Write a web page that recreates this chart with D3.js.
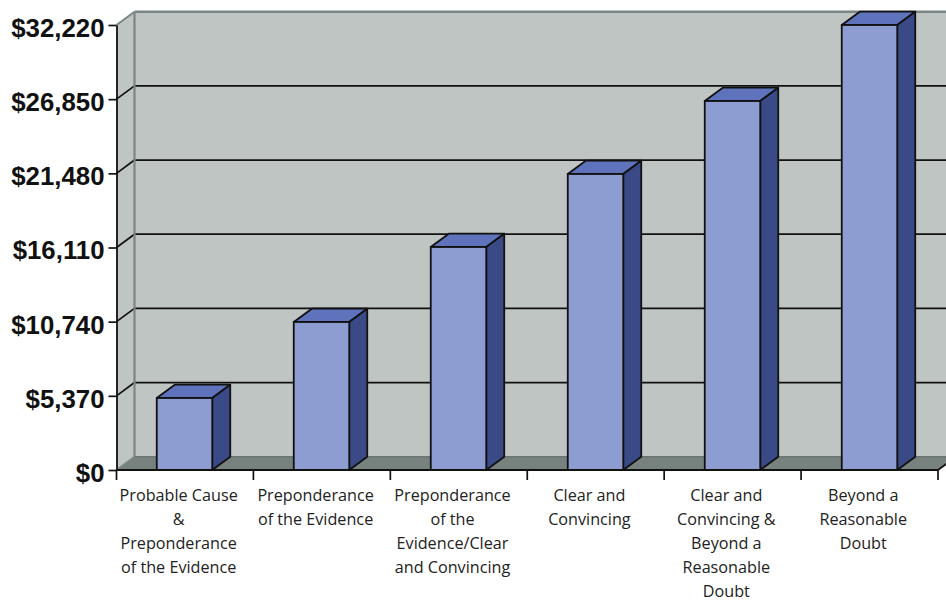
<!DOCTYPE html>
<html><head><meta charset="utf-8">
<style>html,body{margin:0;padding:0;background:#fff}svg{display:block}</style>
<script src="https://cdn.jsdelivr.net/npm/d3@7/dist/d3.min.js"></script></head>
<body><svg id="c" width="946" height="602"></svg>
<script>
const categories=["Probable Cause & Preponderance of the Evidence","Preponderance of the Evidence","Preponderance of the Evidence/Clear and Convincing","Clear and Convincing","Clear and Convincing & Beyond a Reasonable Doubt","Beyond a Reasonable Doubt"];
const labelLines=[["Probable Cause","&","Preponderance","of the Evidence"],["Preponderance","of the Evidence"],["Preponderance","of the","Evidence/Clear","and Convincing"],["Clear and","Convincing"],["Clear and","Convincing &","Beyond a","Reasonable","Doubt"],["Beyond a","Reasonable","Doubt"]];
const values=[5213,10716,16146,21432,26717,32220];
const tickValues=[0,5370,10740,16110,21480,26850,32220];

const W=946,H=602,x0=116.5,x1=938,y0=470,yT=25,dx=18,dy=13.3;
const svg=d3.select("#c");
const x=d3.scaleBand().domain(categories).range([x0,x1]);
const barX=d3.scaleBand().domain(categories).range([x0-0.5,x1]).paddingInner(.595).paddingOuter(.2975);
const y=d3.scaleLinear().domain([0,32220]).range([y0,yT]);
const poly=(pts,fill,stroke,sw)=>svg.append("polygon").attr("points",pts.map(p=>p.join(",")).join(" ")).attr("fill",fill).attr("stroke",stroke||"none").attr("stroke-width",sw||0).attr("stroke-linejoin","round");
const line=(a,b,c,sw)=>svg.append("line").attr("x1",a[0]).attr("y1",a[1]).attr("x2",b[0]).attr("y2",b[1]).attr("stroke",c).attr("stroke-width",sw);

const wall="#bfc5c2",edge="#7a8685",floor="#77827f";
poly([[x0+dx,yT-dy],[W+20,yT-dy],[W+20,y0-dy],[x0+dx,y0-dy]],wall);
poly([[x0,yT],[x0+dx,yT-dy],[x0+dx,y0-dy],[x0,y0]],wall);
poly([[x0,y0],[x0+dx,y0-dy],[x1+dx,y0-dy],[x1,y0]],floor);

// gridlines
tickValues.slice(1,-1).forEach(v=>{
  line([x0,y(v)],[x0+dx,y(v)-dy],"#111",1.7);
  line([x0+dx,y(v)-dy],[W,y(v)-dy],"#111",1.7);
});
// wall edges
line([x0+dx,yT-dy],[W,yT-dy],edge,2.6);
line([x0+dx,yT-dy],[x0+dx,y0-dy],edge,2.2);
line([x0,yT],[x0+dx,yT-dy],edge,2);
line([x0+dx,y0-dy],[W,y0-dy],"#6b7674",1.6);
line([x0,y0],[x0+dx,y0-dy],edge,1.6);
line([x1,y0],[x1+dx,y0-dy],"#111",1.7);

// bars
categories.forEach((c,i)=>{
  const l=barX(c),r=l+barX.bandwidth(),t=y(values[i]);
  poly([[l,t],[l+dx,t-dy],[r+dx,t-dy],[r,t]],"#5f72bc","#111",1.8);
  poly([[r,t],[r+dx,t-dy],[r+dx,y0-dy],[r,y0]],"#3a4a87","#111",1.8);
  svg.append("rect").attr("x",l).attr("y",t).attr("width",r-l).attr("height",y0-t).attr("fill","#8d9dd1").attr("stroke","#111").attr("stroke-width",1.8);
});

// axes
const fmt=v=>"$"+d3.format(",")(v);
const gy=svg.append("g").attr("transform",`translate(${x0},0)`)
  .call(d3.axisLeft(y).tickValues(tickValues).tickFormat(fmt).tickSize(8).tickPadding(0).tickSizeOuter(0));
gy.select(".domain").attr("stroke","#111").attr("stroke-width",1.8);
gy.selectAll(".tick line").attr("stroke","#111").attr("stroke-width",1.7);
gy.selectAll(".tick text").attr("x",-12).attr("dy","0.44em").attr("fill","#111")
  .style("font-family","'Liberation Sans',Arial,sans-serif").style("font-weight","700").style("font-size","25.8px");

const gx=svg.append("g").attr("transform",`translate(0,${y0})`)
  .call(d3.axisBottom(x).tickFormat("").tickSize(0));
gx.select(".domain").attr("stroke","#111").attr("stroke-width",1.8).attr("d",`M${x0},0H${x1}`);
[...categories.map(c=>x(c)),x1].forEach(p=>line([p,y0],[p,y0+10],"#111",1.7));

categories.forEach((c,i)=>{
  const cx=x(c)+x.bandwidth()/2-6.3;
  const t=svg.append("text").attr("x",cx).attr("y",500.5).attr("text-anchor","middle")
    .attr("fill","#222").style("font-family","'Open Sans',sans-serif").style("font-size","16.2px");
  labelLines[i].forEach((s,k)=>t.append("tspan").attr("x",cx).attr("y",500.5+k*24.1).text(s));
});
</script></body></html>
